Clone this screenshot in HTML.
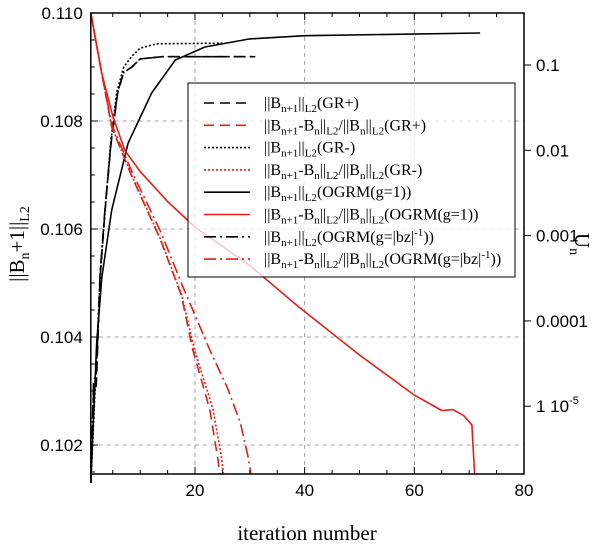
<!DOCTYPE html>
<html><head><meta charset="utf-8">
<style>
html,body{margin:0;padding:0;background:#fff;}
svg{display:block;font-family:"Liberation Sans",sans-serif;}
.serif{font-family:"Liberation Serif",serif;}
</style></head>
<body>
<svg id="chart" width="600" height="548" viewBox="0 0 600 548" xmlns="http://www.w3.org/2000/svg">
<g id="grid"></g>
<g id="series"></g>
<g id="axes"></g>
<text class="serif" x="307" y="540" font-size="21" text-anchor="middle">iteration number</text>
<text class="serif" font-size="21" text-anchor="middle" transform="translate(24,244) rotate(-90)">||B<tspan font-size="14" dy="5">n</tspan><tspan dy="-5">+1||</tspan><tspan font-size="14" dy="5">L2</tspan></text>
<text class="serif" font-size="21" text-anchor="middle" transform="translate(575,244) rotate(90)">U<tspan font-size="14" dy="5">n</tspan></text>
<g id="legend"></g>
</svg>
<script>
// data
const xTicks = [20, 40, 60, 80];
const leftTicks = [0.102, 0.104, 0.106, 0.108, 0.110];
const rightTicks = [-1, -2, -3, -4, -5];
const rightTickLabels = ["0.1", "0.01", "0.001", "0.0001", "1 10"];
// black series (left axis)
const grPlusNormX = [1,1.5,2,2.7,3.6,4.7,5.9,7,8.5,10,14,31];
const grPlusNormY = [0.1013,0.1030,0.1031,0.1051,0.10635,0.10759,0.10852,0.1089,0.1090,0.10915,0.10919,0.10919];
const grMinusNormX = [1,2,2.7,3.6,4.6,5.7,7,8.5,10,13,25];
const grMinusNormY = [0.1013,0.1035,0.1051,0.10635,0.10759,0.10852,0.1090,0.1092,0.10935,0.10943,0.10944];
const ogrm1NormX = [1,2.07,3,4.8,7.8,12.1,16.4,21.8,30,40,72];
const ogrm1NormY = [0.1013,0.1039,0.1051,0.10635,0.10759,0.10852,0.10913,0.10937,0.10952,0.10958,0.10963];
const ogrmBzNormX = [1,1.5,2,2.7,3.6,4.7,5.9,7,8.5,10,14,31];
const ogrmBzNormY = [0.1013,0.1032,0.1033,0.1052,0.10640,0.10762,0.10854,0.1089,0.1090,0.10915,0.10919,0.10919];
// red series (right axis, log10 values)
const grPlusResX = [1,2,3,4.8,8.5,13.7,17.5,19.6,22.7,24.2,24.5];
const grPlusResY = [-0.39,-0.75,-1.1,-1.73,-2.31,-3.05,-3.7,-4.34,-5.04,-5.63,-5.8];
const grMinusResX = [1,2,3,4.8,8.5,13.7,17.6,19.9,23.3,24.9,25.2];
const grMinusResY = [-0.39,-0.75,-1.1,-1.72,-2.3,-3.04,-3.7,-4.34,-5.04,-5.63,-5.8];
const ogrm1ResX = [1,3,5,7.2,10,15,20,30,39,50,60,65,67,69,70.5,71];
const ogrm1ResY = [-0.39,-1.1,-1.6,-2.0,-2.25,-2.6,-2.9,-3.35,-3.84,-4.40,-4.87,-5.05,-5.04,-5.11,-5.22,-5.8];
const ogrmBzResX = [1,2,3,4.8,8.5,13.7,17.8,22.7,26,28.3,29.7,30.2];
const ogrmBzResY = [-0.39,-0.75,-1.1,-1.7,-2.25,-2.95,-3.6,-4.34,-4.8,-5.2,-5.6,-5.8];

const L=90.8, R=524, T=13, B=474;
const NS='http://www.w3.org/2000/svg';
const X = v => 195 + (v-20)*(524-195)/60;
const YL = v => 13 + (0.110 - v)*108/0.002;
const YR = lv => 65 + (-1 - lv)*85.3;
function mk(tag, parent, attrs){const e=document.createElementNS(NS,tag);for(const k in attrs)e.setAttribute(k,attrs[k]);parent.appendChild(e);return e;}
const grid=document.getElementById('grid'), axes=document.getElementById('axes'), ser=document.getElementById('series'), leg=document.getElementById('legend');

xTicks.slice(0,3).forEach(v=>{const l=mk('line',grid,{x1:X(v),x2:X(v),y1:T,y2:B,stroke:'#888','stroke-width':0.8,'stroke-dasharray':'4,4'});

});
leftTicks.slice(0,4).forEach(v=>{const l=mk('line',grid,{x1:L,x2:R,y1:YL(v),y2:YL(v),stroke:'#888','stroke-width':0.8,'stroke-dasharray':'4,4'});

});

const series=[
 [grPlusNormX,grPlusNormY,'L','#000','10,6'],
 [grMinusNormX,grMinusNormY,'L','#000','2,2'],
 [ogrm1NormX,ogrm1NormY,'L','#000',''],
 [ogrmBzNormX,ogrmBzNormY,'L','#000','12,4,2,4'],
 [grPlusResX,grPlusResY,'R','#e0201a','10,6'],
 [grMinusResX,grMinusResY,'R','#e0201a','2,2'],
 [ogrm1ResX,ogrm1ResY,'R','#e0201a',''],
 [ogrmBzResX,ogrmBzResY,'R','#e0201a','12,4,2,4']
];
const names=['gr-plus-norm','gr-minus-norm','ogrm-g1-norm','ogrm-bz-norm','gr-plus-residual','gr-minus-residual','ogrm-g1-residual','ogrm-bz-residual'];
series.forEach((s,i)=>{const f=s[2]==='L'?YL:YR;
 const pts=s[0].map((x,j)=>X(x).toFixed(1)+','+f(s[1][j]).toFixed(1)).join(' ');
 const p=mk('polyline',ser,{points:pts,fill:'none',stroke:s[3],'stroke-width':1.6});
 if(s[4])p.setAttribute('stroke-dasharray',s[4]);
 
 
});

const fr=mk('rect',axes,{x:L,y:T,width:R-L,height:B-T,fill:'none',stroke:'#000','stroke-width':1.5});


for(let v=5;v<=80;v+=5){const len=(v%20===0)?7:4;
 mk('line',axes,{x1:X(v),x2:X(v),y1:B,y2:B-len,stroke:'#000','stroke-width':1});
 mk('line',axes,{x1:X(v),x2:X(v),y1:T,y2:T+len,stroke:'#000','stroke-width':1});}
xTicks.forEach(v=>{const t=mk('text',axes,{x:X(v),y:B+22,'font-size':17,'text-anchor':'middle'});t.textContent=v;
 
 });
for(let k=0;k<=17;k++){const v=0.1015+k*0.0005; if(v>0.11001)break; const r=Math.round(v*10000); const maj=(r%20===0);
 mk('line',axes,{x1:L,x2:L+(maj?7:4),y1:YL(v),y2:YL(v),stroke:'#000','stroke-width':1});}
leftTicks.forEach(v=>{const t=mk('text',axes,{x:L-8,y:YL(v)+6,'font-size':17,'text-anchor':'end'});t.textContent=v.toFixed(3);
 
 });
rightTicks.forEach((v,i)=>{mk('line',axes,{x1:R,x2:R+7,y1:YR(v),y2:YR(v),stroke:'#000','stroke-width':1});
 const t=mk('text',axes,{x:R+12,y:YR(v)+6,'font-size':17});t.textContent=rightTickLabels[i];
 if(v===-5){const s=mk('tspan',t,{'font-size':11,dy:-8});s.textContent='-5';}
 
 });

const lb=mk('rect',leg,{x:188,y:83,width:327,height:194,fill:'rgba(255,255,255,0.75)',stroke:'#000','stroke-width':1});


const labels=[
 ['||B','_n+1','||','_L2','(GR+)'],
 ['||B','_n+1','-B','_n','||','_L2','/||B','_n','||','_L2','(GR+)'],
 ['||B','_n+1','||','_L2','(GR-)'],
 ['||B','_n+1','-B','_n','||','_L2','/||B','_n','||','_L2','(GR-)'],
 ['||B','_n+1','||','_L2','(OGRM(g=1))'],
 ['||B','_n+1','-B','_n','||','_L2','/||B','_n','||','_L2','(OGRM(g=1))'],
 ['||B','_n+1','||','_L2','(OGRM(g=|bz|','^-1','))'],
 ['||B','_n+1','-B','_n','||','_L2','/||B','_n','||','_L2','(OGRM(g=|bz|','^-1','))']
];
const order=[0,4,1,5,2,6,3,7];
order.forEach((si,i)=>{const y=103+i*22.3;const s=series[si];
 const l=mk('line',leg,{x1:204,x2:250,y1:y,y2:y,stroke:s[3],'stroke-width':1.6});
 if(s[4])l.setAttribute('stroke-dasharray',s[4]);
 
 
 const t=mk('text',leg,{x:264,y:y+5,'font-size':16,class:'serif'});
 
 
 let off=0;
 labels[i].forEach(part=>{
  let target=0, txt=part, fs=null;
  if(part[0]==='_'){target=4;txt=part.slice(1);fs=11;}
  else if(part[0]==='^'){target=-6;txt=part.slice(1);fs=11;}
  const a={dy:target-off}; if(fs)a['font-size']=fs;
  const sp=mk('tspan',t,a); sp.textContent=txt; off=target;
 });
});
</script>
</body></html>
